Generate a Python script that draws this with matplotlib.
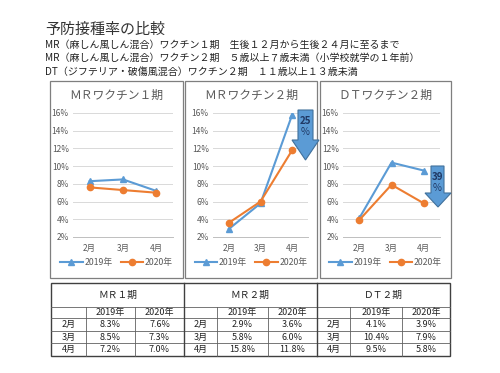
import matplotlib
matplotlib.use("Agg")
import matplotlib.pyplot as plt
from matplotlib.patches import Rectangle, Polygon

plt.rcParams['font.family'] = ['Noto Sans CJK JP', 'DejaVu Sans']

months = ['2月', '3月', '4月']
years = ['2019年', '2020年']
titles = ['ＭＲワクチン１期', 'ＭＲワクチン２期', 'ＤＴワクチン２期']
table_heads = ['ＭＲ１期', 'ＭＲ２期', 'ＤＴ２期']

mr1_2019 = [8.3, 8.5, 7.2]
mr1_2020 = [7.6, 7.3, 7.0]
mr2_2019 = [2.9, 5.8, 15.8]
mr2_2020 = [3.6, 6.0, 11.8]
dt2_2019 = [4.1, 10.4, 9.5]
dt2_2020 = [3.9, 7.9, 5.8]

drops = ['25', None, '39']

blue = '#5B9BD5'
orange = '#ED7D31'
gray = '#595959'

W, H = 500, 373
fig = plt.figure(figsize=(5, 3.73), dpi=100)
fig.patch.set_facecolor('white')


def rect(x0, y0, x1, y1):
    return [x0 / W, 1 - y1 / H, (x1 - x0) / W, (y1 - y0) / H]


# overlay in pixel units for frames, arrows and the table
ov = fig.add_axes([0, 0, 1, 1], zorder=5)
ov.set_xlim(0, W)
ov.set_ylim(H, 0)
ov.axis('off')
ov.patch.set_alpha(0)

# heading text
ov.text(45, 30, '予防接種率の比較', fontsize=10.8, va='center', ha='left', color='#333333')
subs = ['MR（麻しん風しん混合）ワクチン１期　生後１２月から生後２４月に至るまで',
        'MR（麻しん風しん混合）ワクチン２期　５歳以上７歳未満（小学校就学の１年前）',
        'DT（ジフテリア・破傷風混合）ワクチン２期　１１歳以上１３歳未満']
for i, s in enumerate(subs):
    ov.text(45, 45 + i * 13.3, s, fontsize=7.2, va='center', ha='left', color='#222222')

boxes = [(50, 81, 183, 278), (185, 81, 317, 278), (320, 81, 451, 278)]
plot_x = [(73, 173), (213, 308), (343, 440)]
series = [(mr1_2019, mr1_2020), (mr2_2019, mr2_2020), (dt2_2019, dt2_2020)]

for k in range(3):
    bx0, by0, bx1, by1 = boxes[k]
    ov.add_patch(Rectangle((bx0, by0), bx1 - bx0, by1 - by0, fill=False,
                           edgecolor='#7F7F7F', lw=0.9))
    ov.text((bx0 + bx1) / 2, 95, titles[k], fontsize=8.5, ha='center', va='center',
            color=gray)

    ax = fig.add_axes(rect(plot_x[k][0], 113, plot_x[k][1], 237))
    ax.patch.set_alpha(0)
    s19, s20 = series[k]
    ax.plot(range(3), s19, color=blue, marker='^', ms=4.5, lw=1.5, label=years[0])
    ax.plot(range(3), s20, color=orange, marker='o', ms=4.5, lw=1.5, label=years[1])
    ax.set_xlim(-0.5, 2.5)
    ax.set_ylim(2, 16)
    ax.set_yticks(range(2, 17, 2))
    ax.set_yticklabels([f'{v}%' for v in range(2, 17, 2)])
    ax.set_xticks(range(3))
    ax.set_xticklabels(months)
    ax.tick_params(length=0, labelsize=6, labelcolor=gray, pad=3)
    ax.tick_params(axis='x', pad=5)
    ax.grid(axis='y', color='#D9D9D9', lw=0.7)
    ax.set_axisbelow(True)
    for side in ['top', 'right', 'left']:
        ax.spines[side].set_visible(False)
    ax.spines['bottom'].set_color('#BFBFBF')
    ax.spines['bottom'].set_linewidth(0.7)
    ax.legend(loc='center', bbox_to_anchor=((bx0 + bx1) / 2 / W, 1 - 263 / H),
              bbox_transform=fig.transFigure, ncol=2, frameon=False, fontsize=6.3,
              handlelength=2.6, columnspacing=0.9, handletextpad=0.2,
              labelcolor=gray)

# down arrows showing the drop
arrow_pos = [(298, 313, 110, 140, 292, 319, 160), None, (431, 444, 166, 193, 425, 451, 207)]
for k in range(3):
    if drops[k] is None:
        continue
    sx0, sx1, top, hb, hx0, hx1, tip = arrow_pos[k]
    pts = [(sx0, top), (sx1, top), (sx1, hb), (hx1, hb), ((hx0 + hx1) / 2, tip),
           (hx0, hb), (sx0, hb)]
    ov.add_patch(Polygon(pts, closed=True, facecolor=blue, edgecolor='#41719C', lw=0.8))
    xc = (sx0 + sx1) / 2
    ov.text(xc, top + 11, drops[k], fontsize=7, ha='center', va='center',
            color='#1F3864', fontweight='bold')
    ov.text(xc, top + 22, '%', fontsize=7, ha='center', va='center', color='#1F3864')

# table
t_top, t_head, t_year = 283, 307, 318
row_bot = [331, 343, 356]
sections = [(51, 86, 135, 184), (184, 217, 268, 317), (317, 350, 402, 450)]
tab_vals = [(mr1_2019, mr1_2020), (mr2_2019, mr2_2020), (dt2_2019, dt2_2020)]
line_c = '#404040'

ov.add_patch(Rectangle((51, t_top), 450 - 51, row_bot[-1] - t_top, fill=False,
                       edgecolor=line_c, lw=1.0))
for y in [t_head, t_year] + row_bot[:-1]:
    ov.plot([51, 450], [y, y], color='#606060', lw=0.6)
for k, (x0, xa, xb, x1) in enumerate(sections):
    if k > 0:
        ov.plot([x0, x0], [t_top, row_bot[-1]], color=line_c, lw=1.0)
    for x in (xa, xb):
        ov.plot([x, x], [t_head, row_bot[-1]], color='#606060', lw=0.6)
    ov.text((x0 + x1) / 2, (t_top + t_head) / 2, table_heads[k], fontsize=7,
            ha='center', va='center', color='#222222')
    ov.text((xa + xb) / 2, (t_head + t_year) / 2, years[0], fontsize=6.5,
            ha='center', va='center', color='#222222')
    ov.text((xb + x1) / 2, (t_head + t_year) / 2, years[1], fontsize=6.5,
            ha='center', va='center', color='#222222')
    prev = t_year
    for r in range(3):
        yc = (prev + row_bot[r]) / 2
        ov.text((x0 + xa) / 2, yc, months[r], fontsize=6.5, ha='center', va='center',
                color='#222222')
        ov.text((xa + xb) / 2, yc, f'{tab_vals[k][0][r]:.1f}%', fontsize=6.5,
                ha='center', va='center', color='#222222')
        ov.text((xb + x1) / 2, yc, f'{tab_vals[k][1][r]:.1f}%', fontsize=6.5,
                ha='center', va='center', color='#222222')
        prev = row_bot[r]

fig.savefig('out.png', dpi=100, facecolor='white')
